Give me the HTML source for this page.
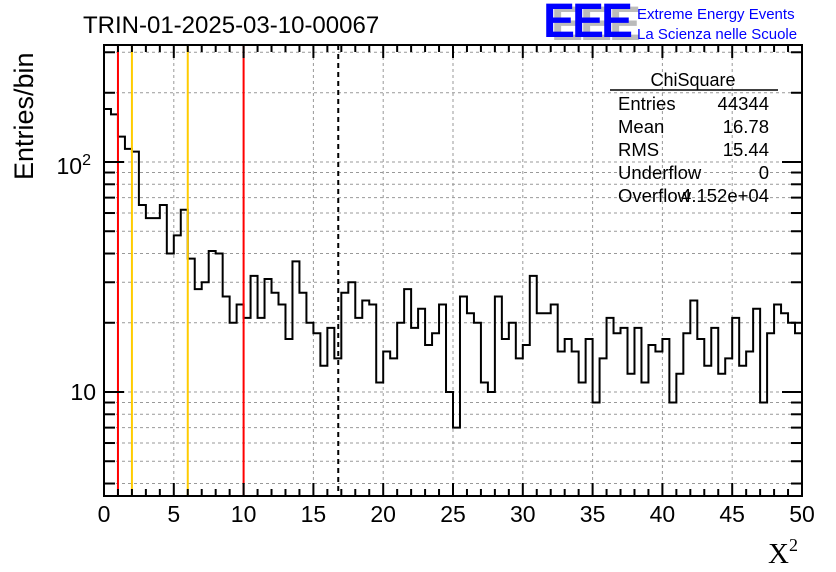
<!DOCTYPE html>
<html><head><meta charset="utf-8"><style>
body{margin:0;background:#fff;width:836px;height:572px;overflow:hidden}
svg{display:block;font-family:"Liberation Sans",sans-serif}
</style></head><body>
<svg id="c" width="836" height="572"></svg>
<script>
const binCounts=[170,161,129,114,111,65,57,57,65,40,48,62,38,28,30,41,40,26,20,24,21,32,21,31,27,24,17,37,27,20,18,13,19,14,27,30,21,25,24,11,15,14,20,28,19,23,16,18,24,10,7,26,22,20,11,10,26,17,20,14,16,32,22,22,24,15,17,15,11,17,9,14,21,18,19,12,19,11,16,15,17,9,12,18,25,17,13,19,12,14,21,13,15,23,9,18,24,22,20,18];
const xTickLabels=[0,5,10,15,20,25,30,35,40,45,50];
const yMajor=[10,100];
const yGrid=[4,5,6,7,8,9,10,20,30,40,50,60,70,80,90,100,200,300];
const redLines=[1,10];
const orangeLines=[2,6];
const meanValue=16.78;
const binWidth=0.5;

const L=104,R=802,T=45,B=496;
const xMin=0,xMax=50;
const y100=162,dec=230;
const X=v=>L+(v-xMin)/(xMax-xMin)*(R-L);
const Y=v=>y100-(Math.log10(v)-2)*dec;
const svg=document.getElementById('c');
const NS='http://www.w3.org/2000/svg';
function mk(tag,attrs,parent){const e=document.createElementNS(NS,tag);for(const k in attrs)e.setAttribute(k,attrs[k]);(parent||svg).appendChild(e);return e;}

for(const v of yGrid){const y=Y(v);if(y<T||y>B)continue;
 const g=mk('line',{x1:L,x2:R,y1:y,y2:y,stroke:'#999','stroke-dasharray':'3,3','stroke-width':1});
 
 }
for(const v of xTickLabels){if(v===xMin||v===xMax)continue;const x=X(v);
 const g=mk('line',{x1:x,x2:x,y1:T,y2:B,stroke:'#999','stroke-dasharray':'3,3','stroke-width':1});
 
 }

let d='M'+X(0)+','+B;
binCounts.forEach((c,i)=>{const x0=X(i*binWidth),x1=X((i+1)*binWidth),y=Math.max(T,Y(c));d+=' L'+x0+','+y+' L'+x1+','+y;});
d+=' L'+X(binCounts.length*binWidth)+','+B;
const h=mk('path',{d:d,fill:'none',stroke:'#000','stroke-width':2});



for(const v of redLines){const l=mk('line',{x1:X(v),x2:X(v),y1:T,y2:B,stroke:'#f00','stroke-width':2});
 
 }
for(const v of orangeLines){const l=mk('line',{x1:X(v),x2:X(v),y1:T,y2:B,stroke:'#fc0','stroke-width':2});
 
 }
const ml=mk('line',{x1:X(meanValue),x2:X(meanValue),y1:T,y2:B,stroke:'#000','stroke-width':2,'stroke-dasharray':'5,4'});



const fr=mk('rect',{x:L,y:T,width:R-L,height:B-T,fill:'none',stroke:'#000','stroke-width':2});



for(let v=xMin;v<=xMax;v++){const x=X(v);const len=(v%5===0)?13:7;
 mk('line',{x1:x,x2:x,y1:B,y2:B-len,stroke:'#000','stroke-width':2});
 mk('line',{x1:x,x2:x,y1:T,y2:T+len,stroke:'#000','stroke-width':2});}
for(const v of xTickLabels){const t=mk('text',{x:X(v),y:522,'font-size':23,'text-anchor':'middle'});t.textContent=v;
 
 }
for(const v of yGrid){const y=Y(v);if(y<T||y>B)continue;const len=yMajor.includes(v)?20:11;
 mk('line',{x1:L,x2:L+len,y1:y,y2:y,stroke:'#000','stroke-width':2});
 mk('line',{x1:R,x2:R-len,y1:y,y2:y,stroke:'#000','stroke-width':2});}
let t=mk('text',{x:96,y:Y(10)+8,'font-size':23,'text-anchor':'end'});t.textContent='10';


t=mk('text',{x:91,y:Y(100)+12,'font-size':23,'text-anchor':'end'});t.innerHTML='10<tspan dy="-9" font-size="16">2</tspan>';



t=mk('text',{x:83,y:33,'font-size':24});t.textContent='TRIN-01-2025-03-10-00067';


t=mk('text',{x:0,y:0,'font-size':27,transform:'translate(33,180) rotate(-90)'});t.textContent='Entries/bin';


t=mk('text',{x:768,y:563,'font-size':29,'font-family':'Liberation Serif'});t.innerHTML='X<tspan dy="-12" font-size="18">2</tspan>';



t=mk('text',{x:551,y:40,'font-size':48,fill:'#bbb','font-weight':'bold','letter-spacing':'-3'});t.textContent='EEE';


t=mk('text',{x:543,y:37,'font-size':48,fill:'#00f','font-weight':'bold','letter-spacing':'-3'});t.textContent='EEE';


t=mk('text',{x:637,y:19,'font-size':15,fill:'#00f'});t.textContent='Extreme Energy Events';


t=mk('text',{x:637,y:39,'font-size':15,fill:'#00f'});t.textContent='La Scienza nelle Scuole';



const sg=mk('g',{});


t=mk('text',{x:693,y:86,'font-size':18,'text-anchor':'middle'},sg);t.textContent='ChiSquare';
mk('line',{x1:610,x2:778,y1:90,y2:90,stroke:'#000','stroke-width':1.5},sg);
const rows=[['Entries','44344'],['Mean','16.78'],['RMS','15.44'],['Underflow','0'],['Overflow','4.152e+04']];
rows.forEach((r,i)=>{const y=110+i*23;
 let a=mk('text',{x:618,y:y,'font-size':18.5},sg);a.textContent=r[0];
 let b=mk('text',{x:769,y:y,'font-size':18.5,'text-anchor':'end'},sg);b.textContent=r[1];});
</script>
</body></html>
